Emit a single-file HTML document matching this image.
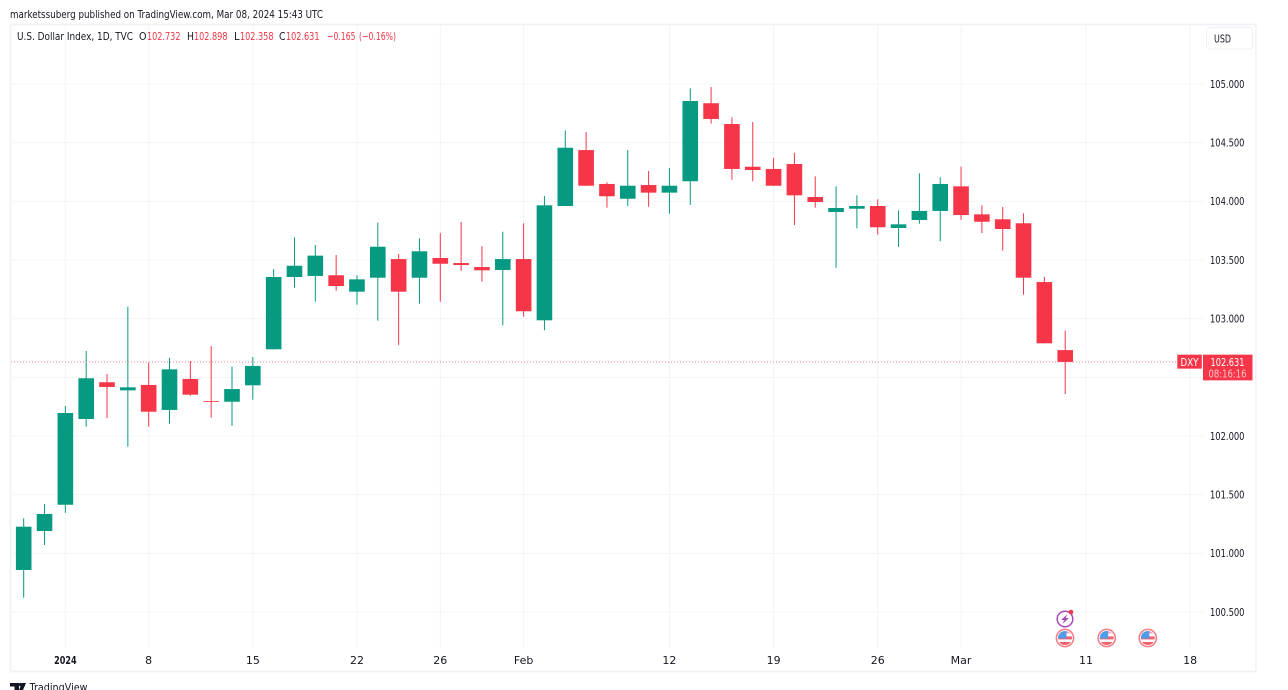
<!DOCTYPE html>
<html lang="en">
<head>
<meta charset="utf-8">
<title>U.S. Dollar Index chart</title>
<style>
html,body{margin:0;padding:0;background:#fff;width:1288px;height:690px;overflow:hidden}
svg{display:block;position:absolute;left:0;top:0}
text{font-family:"DejaVu Sans","Liberation Sans",sans-serif;fill:#131722}
</style>
</head>
<body>
<svg id="chart" xmlns="http://www.w3.org/2000/svg" width="1288" height="690" viewBox="0 0 1288 690">
  <defs>
    <clipPath id="flag-clip"><circle cx="0" cy="0" r="7"/></clipPath>
    <g id="us-flag">
      <circle cx="0" cy="0" r="8.6" fill="#fff" stroke="#f77a85" stroke-width="1.5"/>
      <g clip-path="url(#flag-clip)">
        <rect x="-7" y="-7" width="14" height="14" fill="#fff"/>
        <rect x="-7" y="-1.6" width="14" height="3" fill="#f2606c"/>
        <rect x="-7" y="4" width="14" height="3" fill="#f2606c"/>
        <rect x="0" y="-7" width="7" height="2.4" fill="#f6a0a8"/>
        <rect x="-7" y="-7" width="8.5" height="7.5" fill="#4f9de8"/>
      </g>
    </g>
  </defs>

  <text x="10" y="18" font-size="11" textLength="313" lengthAdjust="spacingAndGlyphs">marketssuberg published on TradingView.com, Mar 08, 2024 15:43 UTC</text>

  <rect x="10.5" y="24.5" width="1245.5" height="647" fill="#fff" stroke="#eff1f6" stroke-width="1.6"/>

  <g id="grid"></g>
  <g id="candles"></g>
  <g id="price-axis"></g>
  <g id="time-axis"></g>
  <g id="last-price"></g>

  <g font-size="10.8">
    <text x="17" y="39.8" textLength="116" lengthAdjust="spacingAndGlyphs">U.S. Dollar Index, 1D, TVC</text>
    <text x="139" y="39.8" textLength="7.5" lengthAdjust="spacingAndGlyphs">O</text>
    <text x="147" y="39.8" style="fill:#f23645" textLength="33.5" lengthAdjust="spacingAndGlyphs">102.732</text>
    <text x="187" y="39.8" textLength="7" lengthAdjust="spacingAndGlyphs">H</text>
    <text x="194" y="39.8" style="fill:#f23645" textLength="33.5" lengthAdjust="spacingAndGlyphs">102.898</text>
    <text x="234" y="39.8" textLength="5.5" lengthAdjust="spacingAndGlyphs">L</text>
    <text x="240" y="39.8" style="fill:#f23645" textLength="33.5" lengthAdjust="spacingAndGlyphs">102.358</text>
    <text x="279" y="39.8" textLength="6.5" lengthAdjust="spacingAndGlyphs">C</text>
    <text x="286" y="39.8" style="fill:#f23645" textLength="33.5" lengthAdjust="spacingAndGlyphs">102.631</text>
    <text x="327" y="39.8" style="fill:#f23645" textLength="28.5" lengthAdjust="spacingAndGlyphs">−0.165</text>
    <text x="359" y="39.8" style="fill:#f23645" textLength="37" lengthAdjust="spacingAndGlyphs">(−0.16%)</text>
  </g>

  <g>
    <rect x="1206.5" y="27.5" width="46" height="21.5" rx="3" fill="#fff" stroke="#eff1f6"/>
    <text x="1222.5" y="42.3" font-size="10.5" text-anchor="middle" textLength="17" lengthAdjust="spacingAndGlyphs">USD</text>
  </g>

  <g transform="translate(1065,619)">
    <circle cx="0" cy="0" r="7.8" fill="#fff" stroke="#ab47bc" stroke-width="1.5"/>
    <polygon points="2.4,-5 -3.8,1 -0.6,1 -2.4,5 3.8,-1 0.6,-1" fill="#ab47bc"/>
    <circle cx="6" cy="-7" r="2.3" fill="#f23645"/>
  </g>
  <use href="#us-flag" x="1065" y="638"/>
  <use href="#us-flag" x="1106.7" y="638"/>
  <use href="#us-flag" x="1147.8" y="638"/>

  <g>
    <path d="M10 683h9v7h-4.5v-3.5H10zM22 683l-3 7h4l3-7z" fill="#131722"/>
    <circle cx="20.6" cy="684.6" r="1.7" fill="#131722"/>
    <text x="29.5" y="691" font-size="11" textLength="58" lengthAdjust="spacingAndGlyphs">TradingView</text>
  </g>
</svg>

<script>
// Daily U.S. Dollar Index bars, Dec 28 2023 to Mar 8 2024
const opens = [100.858,101.190,101.414,102.145,102.458,102.389,102.435,102.222,102.486,102.298,102.292,102.432,102.739,103.355,103.364,103.370,103.230,103.349,103.508,103.349,103.517,103.474,103.440,103.415,103.508,102.986,103.960,104.437,104.148,104.022,104.139,104.074,104.171,104.836,104.659,104.295,104.276,104.318,104.037,103.909,103.937,103.960,103.773,103.841,103.918,104.128,103.889,103.847,103.813,103.312,102.732];
const highs = [101.299,101.420,102.256,102.724,102.528,103.102,102.625,102.665,102.639,102.767,102.591,102.673,103.423,103.693,103.628,103.543,103.370,103.818,103.551,103.685,103.728,103.824,103.617,103.741,103.813,104.045,104.605,104.591,104.162,104.437,104.259,104.284,104.963,104.974,104.716,104.676,104.372,104.414,104.213,104.128,104.051,104.017,103.924,104.239,104.205,104.295,103.966,103.952,103.898,103.355,102.898];
const lows = [100.622,101.071,101.346,102.079,102.151,101.909,102.079,102.105,102.343,102.156,102.085,102.309,102.737,103.264,103.145,103.238,103.119,102.983,102.776,103.128,103.145,103.406,103.315,102.943,103.017,102.901,103.960,104.131,103.946,103.960,103.954,103.895,103.969,104.662,104.184,104.171,104.131,103.798,103.946,103.434,103.770,103.716,103.611,103.809,103.659,103.843,103.730,103.579,103.204,102.789,102.358];
const closes = [101.227,101.335,102.196,102.492,102.418,102.415,102.207,102.568,102.352,102.292,102.400,102.597,103.355,103.451,103.537,103.278,103.335,103.613,103.230,103.574,103.468,103.457,103.412,103.508,103.063,103.966,104.457,104.133,104.043,104.133,104.074,104.133,104.855,104.702,104.276,104.267,104.133,104.051,103.994,103.943,103.960,103.779,103.804,103.918,104.148,103.883,103.826,103.764,103.349,102.790,102.631];
const priceTicks = [105,104.5,104,103.5,103,102.5,102,101.5,101,100.5];
const timeTickLabels = ['2024','8','15','22','26','Feb','12','19','26','Mar','11','18'];
const timeTickBars = [2,6,11,16,20,24,31,36,41,45,51,56];
const symbolName = 'DXY';
const countdownText = '08:16:16';

const NS = 'http://www.w3.org/2000/svg';
const xOf = function (bar) { return 23.7 + bar * 20.83; };
const yOf = function (price) { return 84 + (105 - price) * 117.33; };

function make(tag, props, parent, content) {
  const el = document.createElementNS(NS, tag);
  for (const k in props) el.setAttribute(k, props[k]);
  if (content !== undefined) el.textContent = content;
  parent.appendChild(el);
  return el;
}

const gridG = document.getElementById('grid');
const priceG = document.getElementById('price-axis');
const timeG = document.getElementById('time-axis');
const candleG = document.getElementById('candles');
const lastG = document.getElementById('last-price');
const lastClose = closes[closes.length - 1];
const lastY = yOf(lastClose);

priceTicks.forEach(function (p) {
  const line = make('line', {x1: 11, x2: 1203, y1: yOf(p), y2: yOf(p), stroke: '#f3f4f7', 'stroke-width': 1}, gridG);
  
  
  // the axis hides a tick label that collides with the last-price tag
  if (yOf(p) > lastY - 12 && yOf(p) < lastY + 24) return;
  const label = make('text', {x: 1244.5, y: yOf(p) + 3.9, 'font-size': 11, 'text-anchor': 'end', textLength: 34.5, lengthAdjust: 'spacingAndGlyphs'}, priceG, p.toFixed(3));
  
  
});

timeTickLabels.forEach(function (t, i) {
  const x = xOf(timeTickBars[i]);
  const line = make('line', {x1: x, x2: x, y1: 25, y2: 648, stroke: '#f3f4f7', 'stroke-width': 1}, gridG);
  
  
  const props = {x: x, y: 664, 'font-size': 11, 'text-anchor': 'middle', 'font-weight': t === '2024' ? 700 : 400};
  if (t === '2024') props.textLength = 22.5;
  if (t === '2024') props.lengthAdjust = 'spacingAndGlyphs';
  const label = make('text', props, timeG, t);
  
  
});

closes.forEach(function (c, i) {
  const o = opens[i];
  const color = c >= o ? '#059a81' : '#f63648';
  const x = xOf(i);
  const g = make('g', {}, candleG);
  
  
  const wick = make('rect', {x: x - 0.5, width: 1, y: yOf(highs[i]), height: yOf(lows[i]) - yOf(highs[i]), fill: color}, g);
  
  
  const top = yOf(Math.max(o, c));
  const body = make('rect', {x: x - 7.8, width: 15.6, y: top, height: Math.max(yOf(Math.min(o, c)) - top, 0.8), fill: color}, g);
  
  
});

const lastLine = make('line', {x1: 11, x2: 1177, y1: lastY, y2: lastY, stroke: '#f7838e', 'stroke-width': 1, 'stroke-dasharray': '1 2'}, lastG);


const symBox = make('rect', {x: 1177.3, y: lastY - 7.3, width: 24.5, height: 14, fill: '#f63648'}, lastG);


const symText = make('text', {x: 1189.5, y: lastY + 3.8, 'font-size': 10.5, 'text-anchor': 'middle', style: 'fill:#fff', textLength: 18, lengthAdjust: 'spacingAndGlyphs'}, lastG, symbolName);


const priceBox = make('rect', {x: 1203, y: lastY - 7.3, width: 49.5, height: 25.7, fill: '#f63648'}, lastG);


const priceText = make('text', {x: 1227.5, y: lastY + 3.9, 'font-size': 11, 'text-anchor': 'middle', style: 'fill:#fff', textLength: 34, lengthAdjust: 'spacingAndGlyphs'}, lastG, lastClose.toFixed(3));


const countText = make('text', {x: 1227.5, y: lastY + 15.4, 'font-size': 11, 'text-anchor': 'middle', style: 'fill:#ffc4c9', textLength: 38, lengthAdjust: 'spacingAndGlyphs'}, lastG, countdownText);


</script>
</body>
</html>
